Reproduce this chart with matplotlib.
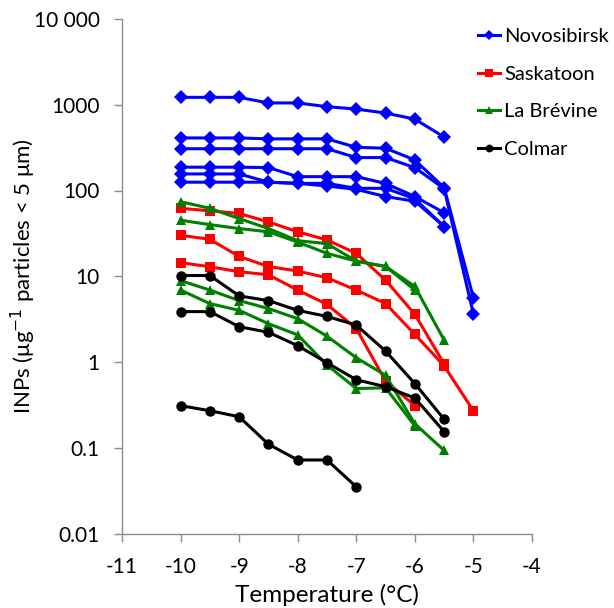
import matplotlib
matplotlib.use("Agg")
import matplotlib.pyplot as plt
from matplotlib.ticker import FixedLocator, FixedFormatter, NullLocator

plt.rcParams['font.family'] = ['Lato', 'DejaVu Sans']

# ---- data ----
temps = [-10, -9.5, -9, -8.5, -8, -7.5, -7, -6.5, -6, -5.5, -5]

novosibirsk = [
    [1220, 1220, 1220, 1050, 1050, 950, 890, 800, 680, 420],
    [410, 410, 410, 400, 400, 400, 319, 311, 227, 108, 5.6],
    [307, 307, 307, 307, 307, 307, 242, 242, 185, 105, 3.6],
    [187, 187, 187, 185, 145, 145, 145, 121, 85, 55],
    [156, 156, 156, 125, 121, 121, 106, 106, 80, 38],
    [125, 125, 125, 125, 121, 113, 103, 85, 75, 38],
]
saskatoon = [
    [62, 58, 54, 43, 33, 26.5, 18.5, 9.0, 3.6, 0.95],
    [30, 27, 17, 13, 11.5, 9.6, 6.9, 4.8, 2.1, 0.9, 0.27],
    [14.4, 12.9, 11.3, 10.4, 6.9, 4.7, 2.45, 0.6, 0.31],
]
labrevine = [
    [74, 62, 47, 36, 26, 24, 15, 13, 7.6, 1.8],
    [45, 40, 36, 33, 25, 18.5, 15, 13, 6.9],
    [8.9, 6.9, 5.2, 4.2, 3.2, 2.0, 1.12, 0.70, 0.19, 0.093],
    [6.9, 4.8, 4.0, 2.8, 2.07, 0.92, 0.49, 0.50, 0.18],
]
colmar = [
    [10.2, 10.2, 5.9, 5.2, 4.0, 3.4, 2.7, 1.34, 0.56, 0.215],
    [3.87, 3.87, 2.58, 2.22, 1.55, 0.98, 0.62, 0.515, 0.38, 0.154],
    [0.31, 0.27, 0.23, 0.11, 0.072, 0.072, 0.035],
]

site_names = ['Novosibirsk', 'Saskatoon', 'La Brévine', 'Colmar']
y_ticks = [0.01, 0.1, 1, 10, 100, 1000, 10000]
y_tick_labels = ['0.01', '0.1', '1', '10', '100', '1000', '10 000']
x_ticks = [-11, -10, -9, -8, -7, -6, -5, -4]

styles = [
    ('#0000FF', 'D', 7),
    ('#FF0000', 's', 7),
    ('#008000', '^', 7.5),
    ('#000000', 'o', 7.5),
]

fig = plt.figure(figsize=(6.14, 6.08), dpi=100)
ax = fig.add_axes([122 / 614, 1 - 533.5 / 608, 410 / 614, 514.5 / 608])

groups = [novosibirsk, saskatoon, labrevine, colmar]
handles = []
for name, grp, (col, mk, ms) in zip(site_names, groups, styles):
    for i, series in enumerate(grp):
        ln, = ax.plot(temps[:len(series)], series, color=col, marker=mk,
                      markersize=ms, linewidth=2.2, markeredgewidth=0,
                      label=name if i == 0 else None)
        if i == 0:
            handles.append(ln)

ax.set_yscale('log')
ax.set_ylim(0.01, 10000)
ax.set_xlim(-11, -4)
ax.yaxis.set_major_locator(FixedLocator(y_ticks))
ax.yaxis.set_major_formatter(FixedFormatter(y_tick_labels))
ax.yaxis.set_minor_locator(NullLocator())
ax.set_xticks(x_ticks)
ax.set_xticklabels([str(v) for v in x_ticks])

for s in ['top', 'right']:
    ax.spines[s].set_visible(False)
for s in ['left', 'bottom']:
    ax.spines[s].set_color('#8c8c8c')
    ax.spines[s].set_linewidth(1.0)
ax.tick_params(axis='both', direction='out', length=6, width=1.0,
               color='#8c8c8c', labelsize=15, labelcolor='#000000')
ax.tick_params(axis='x', pad=11)
ax.tick_params(axis='y', pad=10)

ax.set_xlabel('Temperature (°C)', fontsize=17.5, labelpad=5)
ax.set_ylabel('INPs (μg$^{-1}$ particles < 5 μm)', fontsize=16, labelpad=6)
ax.yaxis.set_label_coords(-0.205, 0.5)

fig.legend(handles=handles, loc='upper left',
           bbox_to_anchor=(474 / 614, 1 - 24 / 608), frameon=False,
           fontsize=14.5, handlelength=1.1, handletextpad=0.2,
           labelspacing=1.02, markerscale=0.75, borderaxespad=0,
           borderpad=0.2)

fig.savefig('out.png', dpi=100)
